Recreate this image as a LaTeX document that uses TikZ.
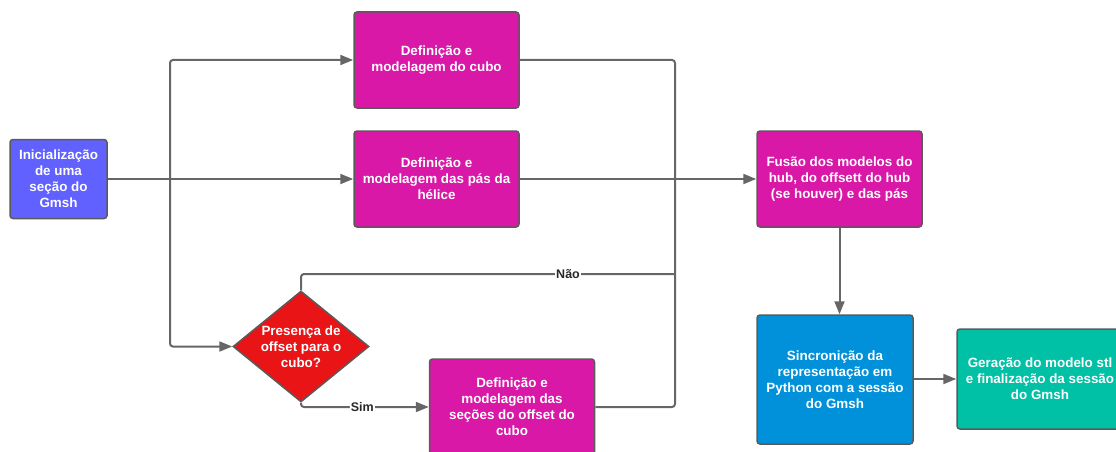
\documentclass[tikz,border=0pt]{standalone}
\usepackage{fontspec}
\setmainfont{Liberation Sans}
\usetikzlibrary{arrows.meta,shapes.geometric}
\definecolor{edge}{RGB}{102,102,102}
\definecolor{rim}{RGB}{90,90,90}
\definecolor{violet}{RGB}{97,97,255}
\definecolor{magenta}{RGB}{217,24,168}
\definecolor{redfill}{RGB}{232,20,22}
\definecolor{bluefill}{RGB}{0,145,218}
\definecolor{tealfill}{RGB}{0,192,165}
\definecolor{labelgray}{RGB}{40,40,40}
\tikzset{
  box/.style={draw=rim, line width=1.5pt, rounded corners=3pt, align=center,
    text=white, font=\fontsize{13.4}{16}\selectfont\bfseries, inner sep=0pt},
  decision/.style={diamond, draw=rim, line width=1.5pt, fill=redfill,
    minimum width=136pt, minimum height=111pt, inner sep=0pt},
  dtext/.style={align=center, text=white, font=\fontsize{13.4}{16}\selectfont\bfseries},
  wire/.style={draw=edge, line width=2pt, rounded corners=3pt},
  conn/.style={wire, -{Triangle[length=13pt,width=10pt]}},
  tag/.style={fill=white, text=labelgray, inner sep=1pt,
    font=\fontsize{12.5}{14}\selectfont\bfseries}
}
\begin{document}
\begin{tikzpicture}[x=1pt,y=-1pt]
\useasboundingbox (0,0) rectangle (1116,452);
\clip (0,0) rectangle (1116,452);

% process boxes
\node[box, fill=violet, minimum width=97pt, minimum height=79pt] (init) at (58.5,179)
  {Inicialização\\de uma\\seção do\\Gmsh};
\node[box, fill=magenta, minimum width=165pt, minimum height=96pt] (cubo) at (436.5,60)
  {Definição e\\modelagem do cubo};
\node[box, fill=magenta, minimum width=165pt, minimum height=96pt] (pas) at (436.5,179)
  {Definição e\\modelagem das pás da\\hélice};
\node[decision, label={[dtext]center:{Presença de\\offset para o\\cubo?}}] (dec) at (301,346.5) {};
\node[box, fill=magenta, minimum width=165pt, minimum height=96pt] (offset) at (512,407)
  {Definição e\\modelagem das\\seções do offset do\\cubo};
\node[box, fill=magenta, minimum width=165pt, minimum height=96pt] (fusao) at (839.5,179)
  {Fusão dos modelos do\\hub, do offsett do hub\\(se houver) e das pás};
\node[box, fill=bluefill, minimum width=156pt, minimum height=129pt] (sinc) at (835,379.5)
  {Sincronição da\\representação em\\Python com a sessão\\do Gmsh};
\node[box, fill=tealfill, minimum width=166pt, minimum height=100pt] (gera) at (1040,379)
  {Geração do modelo stl\\e finalização da sessão\\do Gmsh};

% junction points of the connector bus lines
\coordinate (jl) at (170,179);
\coordinate (jr) at (675,179);
\coordinate (jn) at (675,274);

% connectors
\draw[conn] (init.east) -- (pas.west);
\draw[conn] (jl) |- (cubo.west);
\draw[conn] (jl) |- (dec.west);
\draw[wire] (cubo.east) -| (jr);
\draw[wire] (pas.east) -- (jr);
\draw[wire] (offset.east) -| (jr);
\draw[wire] (dec.north) |- (jn) node[tag, pos=0.857] {Não};
\draw[conn] (dec.south) |- (offset.west) node[tag, pos=0.74] {Sim};
\draw[conn] (jr) -- (fusao.west);
\draw[conn] (fusao.south) -- (fusao.south |- sinc.north);
\draw[conn] (sinc.east |- gera.west) -- (gera.west);
\end{tikzpicture}
\end{document}
